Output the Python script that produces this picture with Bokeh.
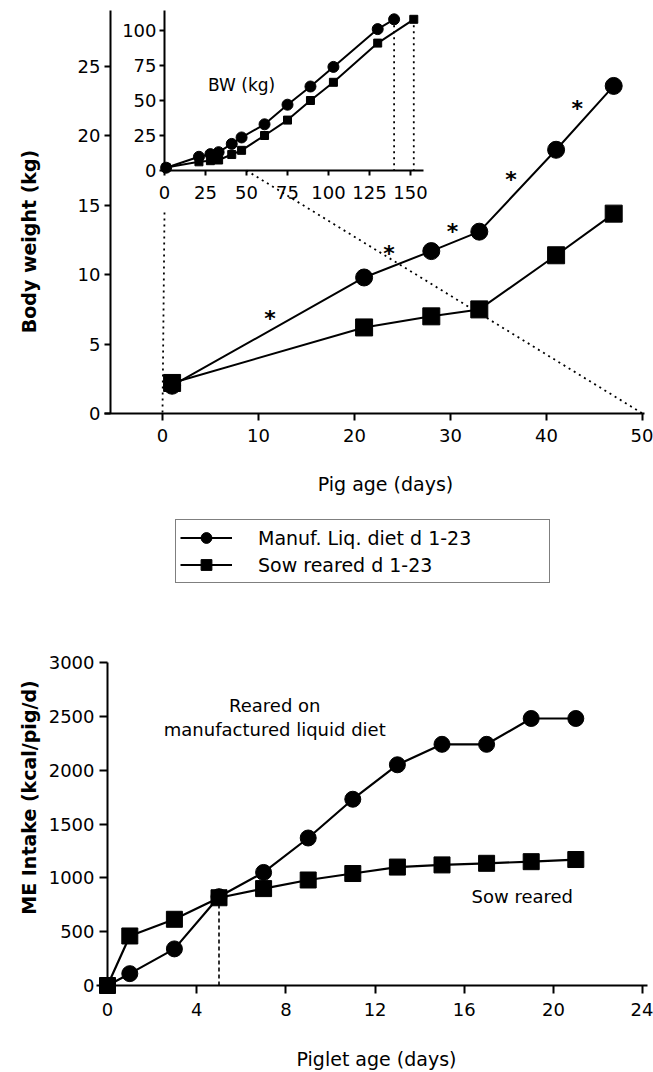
import math
from bokeh.plotting import figure
from bokeh.models import Range1d, LinearAxis, FixedTicker, Legend, LegendItem
from bokeh.embed import file_html
from bokeh.resources import INLINE
from bokeh.core.properties import value

FONT = "DejaVu Sans"

# ---------------- data: top chart (body weight) ----------------
bw_days = [1, 21, 28, 33, 41, 47]
bw_liquid = [2.0, 9.8, 11.7, 13.1, 19.0, 23.6]
bw_sow = [2.2, 6.2, 7.0, 7.5, 11.4, 14.4]
sig_days = [11.2, 23.6, 30.2, 36.3, 43.2]
sig_bw = [7.2, 11.9, 13.5, 17.2, 22.3]
sig_text = ["*", "*", "*", "*", "*"]
main_x_ticks = [0, 10, 20, 30, 40, 50]
main_y_ticks = [0, 5, 10, 15, 20, 25]

# inset: whole growth period
inset_days_liquid = [1, 21, 28, 33, 41, 47, 61, 75, 89, 103, 130, 140]
inset_bw_liquid = [2.0, 9.8, 11.7, 13.1, 19.0, 23.6, 33, 47, 60, 74, 101, 108]
inset_days_sow = [1, 21, 28, 33, 41, 47, 61, 75, 89, 103, 130, 152]
inset_bw_sow = [2.2, 6.2, 7.0, 7.5, 11.4, 14.4, 25, 36, 50, 63, 91, 108]
inset_end_days = [140, 152]
inset_end_bw = [108, 108]
inset_x_ticks = [0, 25, 50, 75, 100, 125, 150]
inset_y_ticks = [0, 25, 50, 75, 100]
inset_zoom_days = [0, 50]   # span of the inset enlarged in the main chart

legend_labels = ["Manuf. Liq. diet d 1-23", "Sow reared d 1-23"]

# ---------------- data: bottom chart (ME intake) ----------------
me_days = [0, 1, 3, 5, 7, 9, 11, 13, 15, 17, 19, 21]
me_liquid = [0, 110, 340, 825, 1050, 1370, 1730, 2050, 2240, 2240, 2480, 2480]
me_sow = [0, 460, 615, 815, 900, 980, 1040, 1100, 1120, 1135, 1150, 1170]
cross_day = [5]
cross_me = [815]
me_x_ticks = [0, 4, 8, 12, 16, 20, 24]
me_y_ticks = [0, 500, 1000, 1500, 2000, 2500, 3000]
note_x = [7.5, 7.5, 18.6]
note_y = [2600, 2377, 826]
note_text = ["Reared on", "manufactured liquid diet", "Sow reared"]

axis_titles = ["Pig age (days)", "Body weight (kg)", "Piglet age (days)", "ME Intake (kcal/pig/d)"]

# ---------------- layout (pixels inside the single figure) ----------------
W, H = 653, 1072


def xr_for(px0, ppu):
    return Range1d(-px0 / ppu, (W - px0) / ppu)


def yr_for(py0, ppu):
    return Range1d(-(H - py0) / ppu, py0 / ppu)


# main chart: x=0 at 162 px, y=0 at 413 px
M_X0, M_PX, M_Y0, M_PY = 162, 9.6, 413, 13.88
# inset: origin at (164, 170) px
I_X0, I_PX, I_Y0, I_PY = 164, 1.64, 170, 1.40
# bottom chart: origin at (107, 985) px
B_X0, B_PX, B_Y0, B_PY = 107, 22.3, 985, 323 / 3000

p = figure(width=W, height=H, x_range=Range1d(0, W), y_range=Range1d(H, 0),
           x_axis_location=None, y_axis_location=None, output_backend="svg",
           toolbar_location=None, min_border=0)
p.min_border_left = p.min_border_right = p.min_border_top = p.min_border_bottom = 0
p.outline_line_color = None
p.grid.visible = False
p.background_fill_color = "white"
p.border_fill_color = "white"

p.extra_x_ranges = {"mx": xr_for(M_X0, M_PX), "ix": xr_for(I_X0, I_PX), "bx": xr_for(B_X0, B_PX)}
p.extra_y_ranges = {"my": yr_for(M_Y0, M_PY), "iy": yr_for(I_Y0, I_PY), "by": yr_for(B_Y0, B_PY)}


def style_axis(ax, tick_out=6, label_standoff=5):
    ax.axis_line_width = 2
    ax.axis_line_color = "black"
    ax.major_tick_line_width = 2
    ax.major_tick_line_color = "black"
    ax.major_tick_out = tick_out
    ax.major_tick_in = 0
    ax.minor_tick_line_color = None
    ax.major_label_text_font = FONT
    ax.major_label_text_font_size = "18px"
    ax.major_label_text_color = "black"
    ax.major_label_standoff = label_standoff


def add_axis(side, xname, yname, loc, bounds, ticks, tick_out, standoff):
    ax = LinearAxis(x_range_name=xname, y_range_name=yname, fixed_location=loc, bounds=bounds,
                    ticker=FixedTicker(ticks=ticks))
    style_axis(ax, tick_out=tick_out, label_standoff=standoff)
    p.add_layout(ax, side)
    return ax


# main chart axes
add_axis("left", "mx", "my", -5.42, (0, 29.0), main_y_ticks, 6, 4)
add_axis("below", "mx", "my", 0, (-6.0, 50.2), main_x_ticks, 7, 8)
# inset axes
add_axis("left", "ix", "iy", 0, (0, 114), inset_y_ticks, 5, 3)
add_axis("below", "ix", "iy", 0, (0, 158), inset_x_ticks, 5, 10)
# bottom chart axes
add_axis("left", "bx", "by", 0, (0, 3000), me_y_ticks, 8, 5)
add_axis("below", "bx", "by", 0, (-0.49, 24.2), me_x_ticks, 8, 9)


def inset_to_main(d, w):
    px = I_X0 + d * I_PX
    py = I_Y0 - w * I_PY
    return (px - M_X0) / M_PX, (M_Y0 - py) / M_PY


# connector lines from the inset's first 50 days to the main chart
sx0, sy0 = inset_to_main(inset_zoom_days[0], -30)
sx1, sy1 = inset_to_main(inset_zoom_days[1], 0)
p.segment(x0=[sx0, sx1], y0=[sy0, sy1], x1=inset_zoom_days, y1=[0, 0], x_range_name="mx", y_range_name="my",
          line_color="black", line_width=1.8, line_dash="2 4")

# main series
l_liq = p.line(bw_days, bw_liquid, x_range_name="mx", y_range_name="my", line_color="black", line_width=2)
l_sow = p.line(bw_days, bw_sow, x_range_name="mx", y_range_name="my", line_color="black", line_width=2)
m_liq = p.scatter(bw_days, bw_liquid, x_range_name="mx", y_range_name="my", marker="circle", size=17,
                  fill_color="black", line_color="black")
m_sow = p.scatter(bw_days, bw_sow, x_range_name="mx", y_range_name="my", marker="square", size=17,
                  fill_color="black", line_color="black")
p.text(sig_days, sig_bw, text=sig_text, x_range_name="mx", y_range_name="my", text_font=value(FONT),
       text_font_size="22px", text_font_style="bold", text_align="center", text_baseline="middle",
       y_offset=5, text_color="black")

# inset series
p.segment(x0=inset_end_days, y0=inset_end_bw, x1=inset_end_days, y1=[0, 0], x_range_name="ix", y_range_name="iy",
          line_color="black", line_width=1.8, line_dash="2 4")
p.line(inset_days_liquid, inset_bw_liquid, x_range_name="ix", y_range_name="iy", line_color="black", line_width=2)
p.line(inset_days_sow, inset_bw_sow, x_range_name="ix", y_range_name="iy", line_color="black", line_width=2)
p.scatter(inset_days_liquid, inset_bw_liquid, x_range_name="ix", y_range_name="iy", marker="circle", size=11,
          fill_color="black", line_color="black")
p.scatter(inset_days_sow, inset_bw_sow, x_range_name="ix", y_range_name="iy", marker="square", size=8,
          fill_color="black", line_color="black")
p.text([47], [61], text=["BW (kg)"], x_range_name="ix", y_range_name="iy", text_font=value(FONT),
       text_font_size="17px", text_align="center", text_baseline="middle", text_color="black")

# bottom series
p.segment(x0=cross_day, y0=[0], x1=cross_day, y1=cross_me, x_range_name="bx", y_range_name="by",
          line_color="black", line_width=1.6, line_dash="4 3")
p.line(me_days, me_liquid, x_range_name="bx", y_range_name="by", line_color="black", line_width=2.2)
p.line(me_days, me_sow, x_range_name="bx", y_range_name="by", line_color="black", line_width=2.2)
p.scatter(me_days, me_liquid, x_range_name="bx", y_range_name="by", marker="circle", size=16,
          fill_color="black", line_color="black")
p.scatter(me_days, me_sow, x_range_name="bx", y_range_name="by", marker="square", size=16,
          fill_color="black", line_color="black")
p.text(note_x, note_y, text=note_text, x_range_name="bx", y_range_name="by", text_font=value(FONT),
       text_font_size="18px", text_align="center", text_baseline="middle", text_color="black")

# axis titles (placed in figure pixel space)
title_px = [385, 28, 376, 28]
title_py = [483, 241, 1058, 797]
title_angle = [0, math.pi / 2, 0, math.pi / 2]
title_style = ["normal", "bold", "normal", "bold"]
for t, tx, ty, ang, sty in zip(axis_titles, title_px, title_py, title_angle, title_style):
    p.text([tx], [ty], text=[t], angle=ang, text_font=value(FONT), text_font_size="19px",
           text_font_style=sty, text_align="center", text_baseline="middle", text_color="black")

legend = Legend(items=[LegendItem(label=legend_labels[0], renderers=[l_liq, m_liq]),
                       LegendItem(label=legend_labels[1], renderers=[l_sow, m_sow])],
                location=(175, 489), orientation="vertical")
legend.border_line_color = "black"
legend.border_line_width = 1.5
legend.background_fill_color = "white"
legend.background_fill_alpha = 1
legend.padding = 4
legend.spacing = 0
legend.glyph_width = 52
legend.glyph_height = 27
legend.label_height = 27
legend.label_standoff = 26
legend.label_width = 287
legend.label_text_font = FONT
legend.label_text_font_size = "19px"
legend.label_text_color = "black"
legend.margin = 0
p.add_layout(legend, "center")

open("out.html", "w").write(file_html(p, INLINE))
